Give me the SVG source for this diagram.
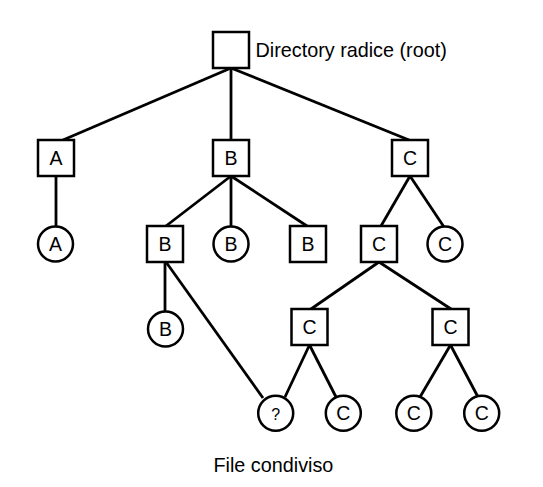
<svg xmlns="http://www.w3.org/2000/svg" width="543" height="487" viewBox="0 0 543 487">
<style>
.n{fill:#fff;stroke:#000;stroke-width:2.5}
.e line{stroke:#000;stroke-width:2.8;stroke-linecap:butt}
.t{font-family:"Liberation Sans",Arial,sans-serif;font-size:19.5px;fill:#000;text-anchor:middle}
.l{font-family:"Liberation Sans",Arial,sans-serif;font-size:19.8px;fill:#000}
</style>
<rect width="543" height="487" fill="#fff"/>
<g id="connectors" class="e">
<line x1="231" y1="68" x2="63" y2="140"/>
<line x1="231" y1="68" x2="231" y2="140"/>
<line x1="231" y1="68" x2="409" y2="140"/>
<line x1="56" y1="176" x2="56" y2="226"/>
<line x1="231" y1="176" x2="166" y2="226"/>
<line x1="231" y1="176" x2="231" y2="226"/>
<line x1="231" y1="176" x2="307" y2="226"/>
<line x1="410" y1="176" x2="381" y2="226"/>
<line x1="410" y1="176" x2="444" y2="227"/>
<line x1="165" y1="262" x2="165" y2="311"/>
<line x1="166" y1="262" x2="263" y2="398"/>
<line x1="379" y1="262" x2="311" y2="309"/>
<line x1="379" y1="262" x2="451" y2="309"/>
<line x1="309.5" y1="345" x2="285" y2="397"/>
<line x1="309.5" y1="345" x2="336" y2="397"/>
<line x1="450.5" y1="345" x2="420" y2="397"/>
<line x1="450.5" y1="345" x2="478" y2="397"/>
</g>
<g id="root"><rect class="n" x="213" y="32" width="36" height="36"/><text class="l" x="255.5" y="56.5">Directory radice (root)</text></g>
<g id="dirA"><rect class="n" x="38" y="140" width="36" height="36"/><text class="t" x="56" y="165">A</text></g>
<g id="dirB"><rect class="n" x="213" y="140" width="36" height="36"/><text class="t" x="231" y="165">B</text></g>
<g id="dirC"><rect class="n" x="392" y="140" width="36" height="36"/><text class="t" x="410" y="165">C</text></g>
<g id="fileA"><circle class="n" cx="55.5" cy="244" r="17.5"/><text class="t" x="55.5" y="251">A</text></g>
<g id="dirB2"><rect class="n" x="147" y="226" width="36" height="36"/><text class="t" x="165" y="251">B</text></g>
<g id="fileB1"><circle class="n" cx="231" cy="244" r="17.5"/><text class="t" x="231" y="251">B</text></g>
<g id="dirB3"><rect class="n" x="290" y="226" width="36" height="36"/><text class="t" x="308" y="251">B</text></g>
<g id="dirC2"><rect class="n" x="361" y="226" width="36" height="36"/><text class="t" x="379" y="251">C</text></g>
<g id="fileC1"><circle class="n" cx="445" cy="244" r="17.5"/><text class="t" x="445" y="251">C</text></g>
<g id="fileB2"><circle class="n" cx="165.5" cy="329" r="17.5"/><text class="t" x="165.5" y="336">B</text></g>
<g id="dirC3"><rect class="n" x="291.5" y="309" width="36" height="36"/><text class="t" x="309.5" y="334">C</text></g>
<g id="dirC4"><rect class="n" x="432.5" y="309" width="36" height="36"/><text class="t" x="450.5" y="334">C</text></g>
<g id="shared"><circle class="n" cx="275.7" cy="413.3" r="17.5"/><text class="t" x="275.7" y="419.5" style="font-size:16px">?</text></g>
<g id="fileC2"><circle class="n" cx="343.3" cy="413.3" r="17.5"/><text class="t" x="343.3" y="420.3">C</text></g>
<g id="fileC3"><circle class="n" cx="413.8" cy="413.3" r="17.5"/><text class="t" x="413.8" y="420.3">C</text></g>
<g id="fileC4"><circle class="n" cx="481.7" cy="413.3" r="17.5"/><text class="t" x="481.7" y="420.3">C</text></g>
<g id="label"><text class="l" x="213.5" y="472">File condiviso</text></g>
</svg>
